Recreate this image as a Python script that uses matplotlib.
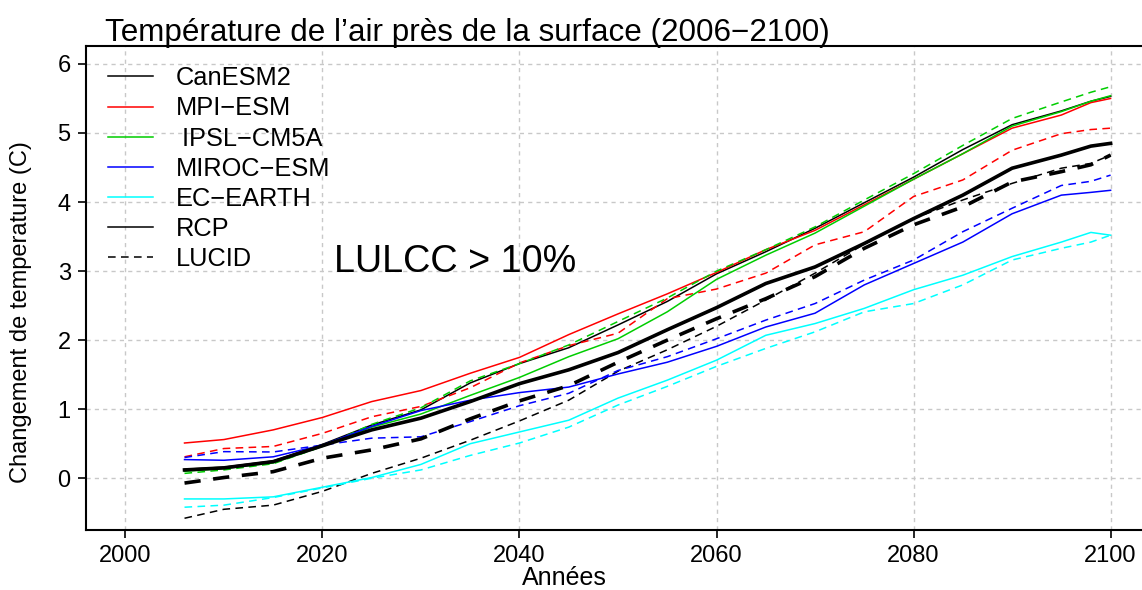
# Température de l'air près de la surface, RCP vs LUCID (2006-2100)
import matplotlib
matplotlib.use("Agg")
import matplotlib.pyplot as plt
from matplotlib.lines import Line2D

plt.rcParams['font.family'] = ['Liberation Sans', 'DejaVu Sans']

years = [2006, 2010, 2015, 2020, 2025, 2030, 2035, 2040, 2045, 2050, 2055,
         2060, 2065, 2070, 2075, 2080, 2085, 2090, 2095, 2098, 2100]

canesm_rcp = [0.13, 0.16, 0.25, 0.49, 0.77, 0.99, 1.38, 1.66, 1.89, 2.22, 2.56,
              2.96, 3.28, 3.62, 3.99, 4.36, 4.76, 5.12, 5.32, 5.46, 5.53]
canesm_lucid = [-0.58, -0.45, -0.39, -0.19, 0.07, 0.29, 0.55, 0.83, 1.13, 1.55, 1.86,
                2.20, 2.58, 2.97, 3.39, 3.76, 4.03, 4.27, 4.49, 4.56, 4.68]
mpi_rcp = [0.51, 0.56, 0.70, 0.88, 1.11, 1.27, 1.52, 1.75, 2.08, 2.38, 2.67,
           2.98, 3.31, 3.59, 3.96, 4.33, 4.70, 5.07, 5.26, 5.44, 5.50]
mpi_lucid = [0.31, 0.43, 0.46, 0.65, 0.89, 1.04, 1.31, 1.67, 1.92, 2.10, 2.60,
             2.74, 2.97, 3.38, 3.57, 4.08, 4.32, 4.75, 4.99, 5.05, 5.07]
ipsl_rcp = [0.10, 0.14, 0.22, 0.46, 0.74, 0.93, 1.20, 1.46, 1.76, 2.02, 2.41,
            2.88, 3.23, 3.55, 3.94, 4.33, 4.70, 5.10, 5.31, 5.46, 5.54]
ipsl_lucid = [0.07, 0.12, 0.21, 0.46, 0.78, 1.02, 1.41, 1.66, 1.93, 2.27, 2.61,
              3.00, 3.31, 3.64, 4.03, 4.41, 4.82, 5.21, 5.45, 5.59, 5.67]
miroc_rcp = [0.27, 0.26, 0.31, 0.48, 0.75, 0.98, 1.13, 1.24, 1.32, 1.51, 1.68,
             1.91, 2.19, 2.39, 2.80, 3.11, 3.42, 3.83, 4.10, 4.14, 4.17]
miroc_lucid = [0.30, 0.385, 0.38, 0.48, 0.58, 0.60, 0.82, 1.05, 1.23, 1.56, 1.76,
               2.02, 2.29, 2.53, 2.87, 3.16, 3.57, 3.91, 4.24, 4.30, 4.39]
ecearth_rcp = [-0.30, -0.30, -0.27, -0.13, 0.01, 0.20, 0.50, 0.67, 0.84, 1.16, 1.42,
               1.71, 2.07, 2.24, 2.46, 2.73, 2.94, 3.21, 3.42, 3.56, 3.52]
ecearth_lucid = [-0.42, -0.39, -0.28, -0.14, 0.0, 0.12, 0.33, 0.51, 0.74, 1.06, 1.33,
                 1.62, 1.88, 2.12, 2.41, 2.53, 2.80, 3.16, 3.33, 3.42, 3.52]
rcp_mean = [0.12, 0.15, 0.24, 0.47, 0.70, 0.87, 1.11, 1.37, 1.57, 1.82, 2.15,
            2.47, 2.82, 3.06, 3.40, 3.76, 4.10, 4.49, 4.68, 4.81, 4.85]
lucid_mean = [-0.07, 0.01, 0.095, 0.29, 0.41, 0.57, 0.86, 1.12, 1.34, 1.68, 2.00,
              2.31, 2.60, 2.92, 3.33, 3.67, 3.93, 4.29, 4.44, 4.54, 4.68]

models = ["CanESM2", "MPI\u2212ESM", " IPSL\u2212CM5A", "MIROC\u2212ESM", "EC\u2212EARTH"]
colors = ["black", "#FF0000", "#00CD00", "#0000FF", "#00FFFF"]
rcp = [canesm_rcp, mpi_rcp, ipsl_rcp, miroc_rcp, ecearth_rcp]
lucid = [canesm_lucid, mpi_lucid, ipsl_lucid, miroc_lucid, ecearth_lucid]

fig = plt.figure(figsize=(11.42, 5.90), dpi=100)
ax = fig.add_axes([86 / 1142, 1 - 530 / 590, (1150 - 86) / 1142, (530 - 46) / 590])

thin = 1.1
for i in range(len(models)):
    ax.plot(years, lucid[i], color=colors[i], lw=thin, dashes=(5, 3.5))
    ax.plot(years, rcp[i], color=colors[i], lw=thin)

ax.plot(years, lucid_mean, color="black", lw=2.6, dashes=(4.5, 3.5))
ax.plot(years, rcp_mean, color="black", lw=2.6)

ax.set_xlim(1996, 2104)
ax.set_ylim(-0.75, 6.26)
ax.set_xticks([2000, 2020, 2040, 2060, 2080, 2100])
ax.set_yticks([0, 1, 2, 3, 4, 5, 6])
ax.grid(True, color="#C8C8C8", lw=1.0, linestyle=(0, (3, 3)))
ax.set_axisbelow(True)

for s in ["left", "top", "bottom"]:
    ax.spines[s].set_linewidth(1.5)
ax.spines["right"].set_visible(False)
ax.tick_params(labelsize=17, length=6, width=1.2, pad=5)

ax.set_xlabel("Années", fontsize=18)
ax.xaxis.set_label_coords((564 - 86) / 1064, -(566 - 530) / 484)
ax.set_ylabel("Changement de temperature (C)", fontsize=17)
ax.yaxis.set_label_coords(-(86 - 32) / 1064, (530 - 312) / 484)

fig.text(105 / 1142, 1 - 41 / 590, "Température de l\u2019air près de la surface (2006\u22122100)",
         fontsize=22.6, va="baseline", ha="left")

ax.text(2021.2, 2.99, "LULCC > 10%", fontsize=27.2, va="baseline", ha="left")

handles = [Line2D([], [], color=c, lw=thin) for c in colors]
handles.append(Line2D([], [], color="black", lw=thin))
handles.append(Line2D([], [], color="black", lw=thin, dashes=(5, 3.5)))
labels = models + ["RCP", "LUCID"]
ax.legend(handles, labels, loc="upper left", bbox_to_anchor=(0.0207, 0.958),
          frameon=False, fontsize=18.3, handlelength=1.75, handletextpad=0.9,
          labelspacing=0.24, borderpad=0, borderaxespad=0)

fig.savefig("out.png", dpi=100)
